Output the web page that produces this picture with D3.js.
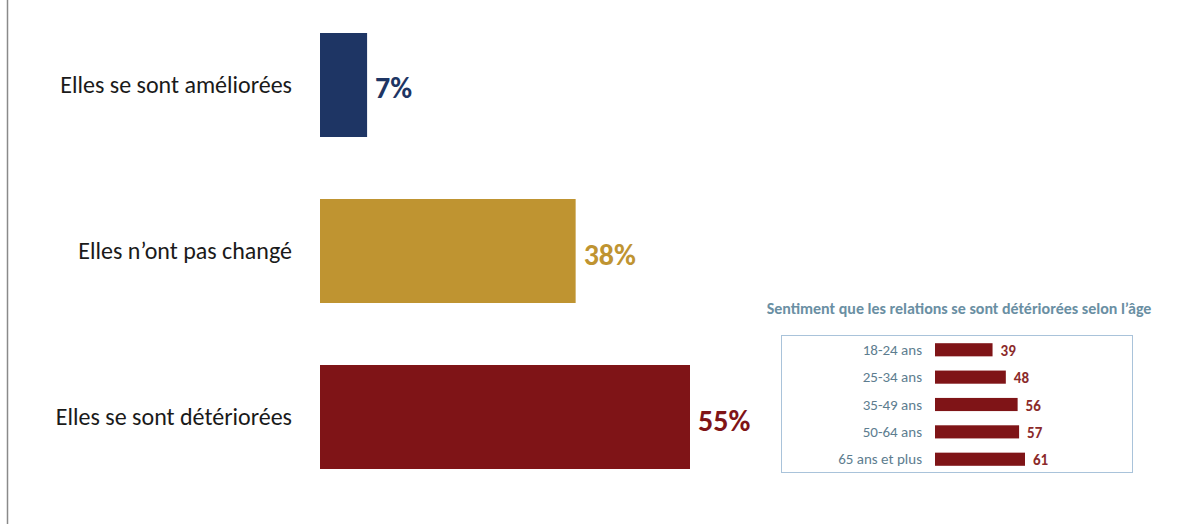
<!DOCTYPE html>
<html>
<head>
<meta charset="utf-8">
<script src="https://cdn.jsdelivr.net/npm/d3@7"></script>
<style>
  body { margin: 0; background: #fff; }
  svg { display: block; }
</style>
</head>
<body>
<svg id="chart"></svg>
<script>
// main chart
const categories = ["Elles se sont améliorées", "Elles n’ont pas changé", "Elles se sont détériorées"];
const values = [7, 38, 55];
const colors = ["#1e3564", "#bf9431", "#7f1417"];

// inset chart
const insetTitle = "Sentiment que les relations se sont détériorées selon l’âge";
const ages = ["18-24 ans", "25-34 ans", "35-49 ans", "50-64 ans", "65 ans et plus"];
const ageValues = [39, 48, 56, 57, 61];

const width = 1178, height = 524;
const font = "Carlito, Calibri, 'Open Sans', sans-serif";

const svg = d3.select("#chart")
    .attr("width", width)
    .attr("height", height)
    .attr("viewBox", [0, 0, width, height]);

// left frame line
svg.append("line")
    .attr("x1", 7.5).attr("x2", 7.5)
    .attr("y1", 0).attr("y2", height)
    .attr("stroke", "#8a8a8a")
    .attr("stroke-width", 1.5);

const x = d3.scaleLinear()
    .domain([0, 55])
    .range([320, 690]);

const y = d3.scaleBand()
    .domain(categories)
    .range([33, 469])
    .paddingInner(0.3735)
    .paddingOuter(0);

const main = svg.append("g");

main.selectAll("rect")
  .data(categories)
  .join("rect")
    .attr("x", x(0))
    .attr("y", d => y(d))
    .attr("width", (d, i) => x(values[i]) - x(0))
    .attr("height", y.bandwidth())
    .attr("fill", (d, i) => colors[i]);

main.selectAll("text.cat")
  .data(categories)
  .join("text")
    .attr("class", "cat")
    .attr("x", 292)
    .attr("y", d => y(d) + y.bandwidth() / 2)
    .attr("dy", "0.35em")
    .attr("text-anchor", "end")
    .attr("font-family", font)
    .attr("font-size", 24)
    .attr("fill", "#1a1a1a")
    .text(d => d);

main.selectAll("text.val")
  .data(categories)
  .join("text")
    .attr("class", "val")
    .attr("x", (d, i) => x(values[i]) + 8)
    .attr("y", d => y(d) + y.bandwidth() / 2 + 3)
    .attr("dy", "0.35em")
    .attr("font-family", font)
    .attr("font-size", 30)
    .attr("font-weight", "bold")
    .attr("fill", (d, i) => colors[i])
    .text((d, i) => values[i] + "%");

// inset
const inset = svg.append("g");

inset.append("text")
    .attr("x", 959)
    .attr("y", 314)
    .attr("text-anchor", "middle")
    .attr("font-family", font)
    .attr("font-size", 16)
    .attr("font-weight", "bold")
    .attr("fill", "#6a8fa3")
    .text(insetTitle);

inset.append("rect")
    .attr("x", 781.5).attr("y", 335.5)
    .attr("width", 351).attr("height", 137)
    .attr("fill", "none")
    .attr("stroke", "#a9c3da")
    .attr("stroke-width", 1);

const ix = d3.scaleLinear()
    .domain([0, 61])
    .range([935, 1025]);

const iy = d3.scaleBand()
    .domain(ages)
    .range([335, 474])
    .paddingInner(0.52)
    .paddingOuter(0.3);

inset.selectAll("rect.bar")
  .data(ages)
  .join("rect")
    .attr("class", "bar")
    .attr("x", ix(0))
    .attr("y", d => iy(d))
    .attr("width", (d, i) => ix(ageValues[i]) - ix(0))
    .attr("height", iy.bandwidth())
    .attr("fill", "#7f1417");

inset.selectAll("text.age")
  .data(ages)
  .join("text")
    .attr("class", "age")
    .attr("x", 922)
    .attr("y", d => iy(d) + iy.bandwidth() / 2)
    .attr("dy", "0.35em")
    .attr("text-anchor", "end")
    .attr("font-family", font)
    .attr("font-size", 15)
    .attr("fill", "#5d7d8f")
    .text(d => d);

inset.selectAll("text.aval")
  .data(ages)
  .join("text")
    .attr("class", "aval")
    .attr("x", (d, i) => ix(ageValues[i]) + 8)
    .attr("y", d => iy(d) + iy.bandwidth() / 2 + 1)
    .attr("dy", "0.35em")
    .attr("font-family", font)
    .attr("font-size", 15)
    .attr("font-weight", "bold")
    .attr("fill", "#8b2a2a")
    .text((d, i) => ageValues[i]);
</script>
</body>
</html>
